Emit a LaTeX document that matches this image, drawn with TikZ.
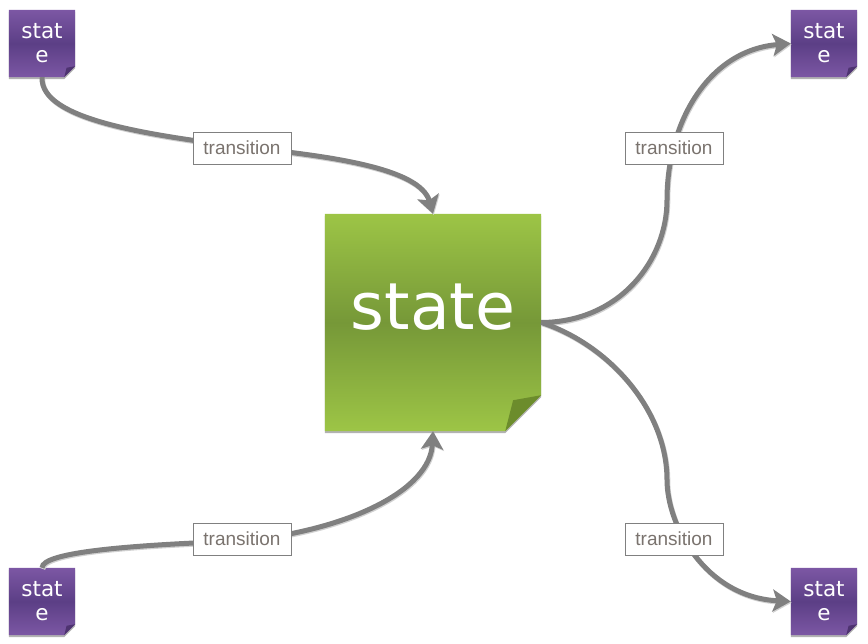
\documentclass[tikz,border=0pt]{standalone}
\usepackage{fontspec}
\setmainfont{DejaVu Sans}
\newfontfamily\labelfont{Liberation Sans}
\usetikzlibrary{arrows.meta}
\pgfdeclarelayer{background}
\pgfsetlayers{background,main}

\definecolor{leafgreen}{RGB}{157,197,70}
\definecolor{leafdark}{RGB}{118,152,56}
\definecolor{foldgreen}{RGB}{108,140,44}
\definecolor{plum}{RGB}{124,87,164}
\definecolor{plumdark}{RGB}{92,63,134}
\definecolor{foldplum}{RGB}{78,51,112}
\definecolor{wire}{RGB}{128,128,128}
\definecolor{labeltext}{RGB}{122,115,110}

\begin{document}
\begin{tikzpicture}[x=1pt,y=-1pt,
	note/.style={rectangle,inner sep=0pt,text=white,align=center},
	mainstate/.style={note,minimum width=216pt,minimum height=217pt,
		font=\fontsize{65}{78}\selectfont,text height=40pt,text depth=25pt},
	substate/.style={note,minimum width=66pt,minimum height=67pt,
		font=\fontsize{21.5}{24}\selectfont},
	conn/.style={draw=wire,line width=5pt,-{Stealth[length=18pt,width=22pt,inset=4pt]},
		preaction={draw=black!18,line width=5pt,transform canvas={xshift=0.8pt,yshift=-1.2pt}}},
	trans/.style={draw=wire,line width=0.8pt,fill=white,inner sep=0pt,
		minimum width=98pt,minimum height=32pt,text=labeltext,
		font=\labelfont\fontsize{19}{22}\selectfont}]

	\useasboundingbox (0,0) rectangle (868,644);

	\node[mainstate] (main) at (433,322.5) {state};
	\node[substate]  (nw)   at (42,43.5)   {stat\\e};
	\node[substate]  (ne)   at (824,43.5)  {stat\\e};
	\node[substate]  (sw)   at (42,601.5)  {stat\\e};
	\node[substate]  (se)   at (824,601.5) {stat\\e};

	% sticky notes behind the texts
	\begin{pgfonlayer}{background}
	\foreach \n/\cut/\hi/\lo/\fd in {main/36/leafgreen/leafdark/foldgreen,
		nw/11/plum/plumdark/foldplum, ne/11/plum/plumdark/foldplum,
		sw/11/plum/plumdark/foldplum, se/11/plum/plumdark/foldplum}{
		\fill[black!30] ([yshift=-2pt]\n.north west) -- ([yshift=-2pt]\n.north east)
			-- ([yshift=\cut pt-2pt]\n.south east) -- ([xshift=-\cut pt,yshift=-2pt]\n.south east)
			-- ([yshift=-2pt]\n.south west) -- cycle;
		\shade[top color=\hi,bottom color=\hi,middle color=\lo]
			(\n.north west) -- (\n.north east) -- ([yshift=\cut pt]\n.south east)
			-- ([xshift=-\cut pt]\n.south east) -- (\n.south west) -- cycle;
		\fill[\fd] ([xshift=-\cut pt]\n.south east)
			-- ([xshift=-0.78*\cut pt,yshift=0.86*\cut pt]\n.south east)
			-- ([yshift=\cut pt]\n.south east) -- cycle;
	}
	\end{pgfonlayer}

	\draw[conn] (nw.south) .. controls (40,120) and (150,135) .. (242,147)
		.. controls (330,156) and (420,168) .. (main.north);
	\draw[conn] (sw.north) .. controls (42,552) and (130,545) .. (242,541)
		.. controls (350,530) and (430,490) .. (main.south);
	\draw[conn] (main.east) .. controls (620,322) and (667,260) .. (667,200)
		.. controls (667,120) and (710,50) .. (ne.west);
	\draw[conn] (main.east) .. controls (610,345) and (667,411) .. (667,480)
		.. controls (667,525) and (705,597) .. (se.west);

	\node[trans] (t1) at (242,148) {transition};
	\node[trans] (t2) at (674,148) {transition};
	\node[trans] (t3) at (242,539) {transition};
	\node[trans] (t4) at (674,539) {transition};

\end{tikzpicture}
\end{document}
